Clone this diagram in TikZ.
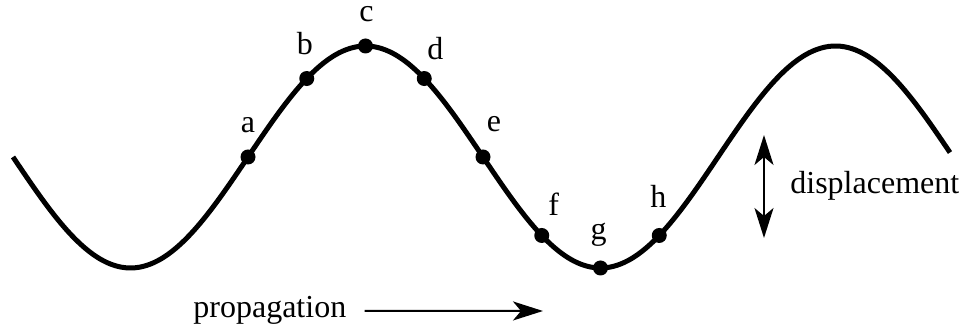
\documentclass[tikz,border=0pt]{standalone}
\usepackage{fontspec}
\setmainfont{Liberation Serif}
\usetikzlibrary{arrows.meta,positioning,calc}
\tikzset{
  >={Stealth[length=15pt,width=9.5pt,inset=4pt]},
  wave/.style={line width=2.5pt},
  dot/.style={circle,fill=black,inner sep=0pt,minimum size=7.5pt},
  lbl/.style={font=\fontsize{16}{19}\selectfont,inner sep=0pt,anchor=base},
  arr/.style={->,line width=1pt},
  darr/.style={<->,line width=1pt},
}

\begin{document}
\begin{tikzpicture}[x=0.5pt,y=-0.5pt]
\useasboundingbox (0,0) rectangle (976,330);
% the wave, two periods
\draw[wave] plot[domain=13:950,samples=240,smooth] (\x,{157+111*sin(((\x-13)/470)*360)});
% marked points a..h, one every eighth of a period
\foreach \k/\n/\dx/\dy in {0/a/0/24,1/b/-2/24,2/c/1/24,3/d/11/19,4/e/11/25,5/f/12/20,6/g/-2/28,7/h/-1/28} {
  \node[dot] (\n) at ({248+58.75*\k},{157-111*sin(45*\k)}) {};
  \node[lbl] (l\n) at ([shift={(\dx,-\dy)}]\n.center) {\n};
}
% propagation
\node[lbl,anchor=base west] (prop) at (193,318) {propagation};
\coordinate (ptip) at (543,311);
\draw[arr] ([xshift=9pt]prop.east) -- (ptip);
% displacement
\coordinate (dtop) at (764,135);
\coordinate (dbot) at (764,238);
\draw[darr] (dbot) -- (dtop);
\node[lbl,anchor=base west] (disp) at (790,194) {displacement};
\end{tikzpicture}
\end{document}
